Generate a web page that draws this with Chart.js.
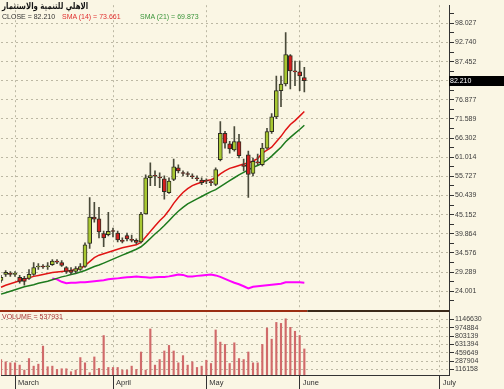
<!DOCTYPE html>
<html>
<head>
<meta charset="utf-8">
<script src="https://cdn.jsdelivr.net/npm/chart.js@4.4.1/dist/chart.umd.min.js"></script>
<style>
  html, body { margin: 0; padding: 0; background: #faf6e4; }
  #wrap { position: relative; width: 504px; height: 389px; overflow: hidden; }
  canvas { display: block; }
  .txt { position: absolute; white-space: nowrap; line-height: 1; font-family: 'Liberation Sans', Arial, sans-serif; font-size: 7px; }
  .titulo { font: bold 7px 'DejaVu Sans', sans-serif; color: #111; transform: scaleY(1.3); transform-origin: top left; }
</style>
</head>
<body>
<div id="wrap">
  <canvas id="grafico" width="504" height="389"></canvas>
  <div class="txt titulo" style="left:2px; top:1px;">الاهلي للتنمية والاستثمار</div>
  <div class="txt" style="left:2px; top:13px; color:#333;">CLOSE = 82.210</div>
  <div class="txt" style="left:62px; top:13px; color:#e03030;">SMA (14) = 73.661</div>
  <div class="txt" style="left:140px; top:13px; color:#3a953a;">SMA (21) = 69.873</div>
  <div class="txt" style="left:2px; top:313px; color:#a83434;">VOLUME = 537931</div>
</div>
<script>
// precios diarios (feb - jun)
const open = [27.00, 28.63, 28.77, 28.63, 27.82, 27.54, 27.54, 28.63, 30.68, 30.82,
  30.76, 31.36, 32.18, 31.91, 30.54, 29.86, 29.45, 30.00, 30.82, 37.17,
  44.45, 43.98, 39.89, 39.62, 40.63, 40.08, 37.90, 39.40, 38.18, 38.04,
  37.63, 45.34, 55.35, 55.89, 55.35, 55.08, 51.26, 54.89, 58.08, 56.58,
  56.30, 55.68, 55.13, 54.72, 54.53, 54.04, 53.52, 60.34, 67.62, 64.70,
  63.06, 65.35, 58.89, 61.70, 56.52, 59.57, 58.97, 63.53, 68.08, 72.17,
  79.42, 81.25, 89.15, 84.71, 84.60, 83.07]
const high = [28.36, 29.72, 29.45, 29.45, 28.36, 28.09, 30.00, 31.91, 31.63, 31.36,
  31.91, 32.72, 32.72, 32.45, 30.82, 30.54, 30.82, 31.63, 37.36, 49.90,
  48.53, 47.17, 40.63, 45.81, 41.45, 40.63, 38.72, 40.08, 39.54, 38.45,
  45.81, 56.17, 59.44, 57.26, 56.71, 55.89, 55.35, 60.53, 58.89, 57.26,
  56.98, 56.44, 55.89, 55.35, 55.08, 54.80, 58.08, 70.89, 68.16, 65.44,
  69.52, 67.34, 60.53, 62.71, 60.80, 61.89, 64.89, 68.98, 73.07, 83.43,
  83.43, 95.50, 89.42, 87.60, 87.60, 85.88]
const low = [26.45, 28.09, 28.09, 28.09, 26.18, 25.64, 27.27, 28.36, 30.00, 30.27,
  30.00, 31.09, 31.63, 30.82, 28.91, 28.63, 28.91, 29.72, 30.54, 35.80,
  43.08, 38.72, 36.27, 39.27, 38.99, 37.63, 37.36, 37.90, 37.63, 37.08,
  37.36, 45.26, 53.17, 53.17, 52.62, 49.43, 50.99, 54.53, 56.71, 55.89,
  55.62, 55.08, 54.53, 53.44, 53.71, 53.17, 53.17, 59.98, 63.53, 62.16,
  62.71, 60.80, 57.26, 49.90, 55.89, 58.89, 58.62, 63.25, 67.62, 71.71,
  74.98, 80.70, 79.88, 80.78, 79.42, 79.07]
const close = [27.82, 29.18, 28.63, 28.91, 26.73, 26.73, 28.63, 30.54, 30.82, 30.68,
  30.87, 32.31, 32.04, 31.09, 29.45, 29.18, 30.27, 30.82, 36.81, 44.45,
  43.90, 40.36, 38.72, 40.55, 40.49, 38.18, 37.77, 38.45, 38.04, 37.49,
  45.34, 55.35, 55.98, 55.76, 55.29, 51.53, 54.45, 58.35, 57.26, 56.52,
  56.25, 55.62, 55.08, 53.99, 54.45, 53.99, 57.61, 67.62, 64.89, 63.34,
  65.35, 61.43, 58.48, 56.25, 59.90, 59.44, 63.53, 68.08, 72.17, 79.42,
  81.25, 89.42, 84.87, 84.60, 83.51, 82.21]
const sma14 = [25.09, 25.64, 26.05, 26.45, 26.86, 27.27, 27.68, 28.09, 28.36, 28.63,
  28.91, 29.18, 29.32, 29.45, 29.59, 29.72, 30.00, 30.27, 31.09, 32.18,
  33.27, 33.95, 34.36, 34.77, 35.18, 35.59, 35.99, 36.27, 36.54, 36.81,
  37.49, 38.99, 40.49, 41.99, 43.49, 44.72, 46.35, 48.26, 49.89, 51.26,
  52.35, 53.17, 53.71, 54.12, 54.53, 54.80, 55.35, 56.44, 57.25, 57.94,
  58.34, 58.75, 59.16, 59.43, 59.98, 60.66, 62.16, 62.98, 63.80, 65.29,
  66.79, 68.57, 70.06, 71.15, 72.38, 73.66]
const sma21 = [23.18, 23.59, 24.00, 24.41, 24.82, 25.23, 25.50, 25.77, 26.18, 26.45,
  26.73, 27.14, 27.54, 27.95, 28.23, 28.63, 28.91, 29.32, 29.72, 30.27,
  30.82, 31.22, 31.77, 32.31, 32.86, 33.40, 33.95, 34.49, 35.04, 35.59,
  36.27, 37.36, 38.58, 39.81, 40.90, 42.13, 43.49, 44.85, 46.08, 47.17,
  48.12, 48.80, 49.49, 50.17, 50.85, 51.53, 52.07, 52.89, 53.71, 54.53,
  55.35, 56.16, 56.84, 57.53, 58.21, 58.75, 59.43, 60.25, 61.34, 62.57,
  63.80, 65.29, 66.52, 67.61, 68.70, 69.87]
const magenta = [null, null, null, null, null, null, null, null, null, null,
  null, 27.54, 27.27, 26.59, 26.18, 26.32, 26.32, 26.45, 26.45, 26.59,
  26.73, 26.86, 27.00, 27.27, 27.41, 27.54, 27.68, 27.82, 27.95, 28.09,
  27.95, 27.82, 27.68, 27.82, 27.95, 27.95, 28.09, 28.36, 28.63, 28.50,
  28.09, 28.09, 28.23, 28.36, 28.50, 28.63, 28.36, 27.95, 27.41, 26.86,
  26.32, 25.91, 25.36, 24.74, 25.23, 25.36, 25.50, 25.64, 25.77, 25.91,
  26.05, 26.45, 26.45, 26.45, 26.45, 26.32]
const volume = [319000, 272000, 251000, 251000, 204000, 102000, 340000, 183000, 224000, 597000,
  170000, 183000, 115000, 129000, 129000, 68000, 102000, 360000, 251000, 48000,
  373000, 136000, 815000, 156000, 156000, 156000, 102000, 102000, 183000, 115000,
  475000, 102000, 950000, 204000, 319000, 496000, 611000, 496000, 251000, 400000,
  204000, 272000, 156000, 183000, 305000, 238000, 930000, 679000, 631000, 238000,
  665000, 340000, 319000, 475000, 251000, 251000, 631000, 971000, 740000, 1086000,
  1066000, 1161000, 984000, 903000, 815000, 537931]

const meses = ['March', 'April', 'May', 'June', 'July']
const inicioMes = [3, 24, 44, 64, 94]
const totalDias = 97
const ticksPrecio = [24.001, 29.289, 34.576, 39.864, 45.152, 50.439, 55.727, 61.014,
  66.302, 71.589, 76.877, 82.164, 87.452, 92.740, 98.027]
const ticksVolumen = [116158, 287904, 459649, 631394, 803139, 974884, 1146630]

const fuente = "'Liberation Sans', Arial, sans-serif"
const verde = '#a8c832'
const rojo = '#d42020'
const grilla = '#bcb8a4'

const etiquetas = []
for (let i = 0; i < totalDias; i++) etiquetas.push('')
meses.forEach((m, k) => { etiquetas[inicioMes[k]] = m })
const esMes = (i) => inicioMes.includes(i)

const cuerpos = open.map((o, i) => [Math.min(o, close[i]), Math.max(o, close[i])])
const colores = open.map((o, i) => close[i] >= o ? verde : rojo)
const mechas = low.map((l, i) => [l, high[i]])

// ticks de precio con marcas menores intermedias
const paso = ticksPrecio[1] - ticksPrecio[0]
const ticksY = [{ value: ticksPrecio[0] - paso / 2, minor: true }]
ticksPrecio.forEach(v => {
    ticksY.push({ value: v, minor: false })
    ticksY.push({ value: v + paso / 2, minor: true })
})

const extras = {
    id: 'extras',
    beforeDraw(chart) {
        const c = chart.ctx
        c.save()
        c.fillStyle = '#faf6e4'
        c.fillRect(0, 0, chart.width, chart.height)
        c.restore()
    },
    afterDatasetsDraw(chart) {
        const c = chart.ctx
        const a = chart.chartArea
        const yv = chart.scales.v.top
        const xFin = chart.scales.x.getPixelForValue(close.length - 1) + 3
        c.save()
        c.lineWidth = 2
        c.strokeStyle = '#9a2e12'
        c.beginPath(); c.moveTo(0, yv); c.lineTo(xFin, yv); c.stroke()
        c.strokeStyle = '#3b2a1a'
        c.beginPath(); c.moveTo(xFin, yv); c.lineTo(a.right, yv); c.stroke()
        c.restore()
    },
    afterDraw(chart) {
        const c = chart.ctx
        const s = chart.scales.y
        const ultimo = close[close.length - 1]
        const y = s.getPixelForValue(ultimo)
        c.save()
        c.fillStyle = '#000'
        c.fillRect(s.left, Math.round(y) - 5, chart.width - s.left, 10)
        c.fillStyle = '#fff'
        c.font = '7px ' + fuente
        c.textBaseline = 'middle'
        c.fillText(ultimo.toFixed(3), s.left + 1, Math.round(y) + 0.5)
        c.restore()
    }
}

const ctx = document.getElementById('grafico').getContext('2d')

new Chart(ctx, {
    type: 'bar',
    data: {
        labels: etiquetas,
        datasets: [
            {
                label: 'Cuerpo',
                data: cuerpos,
                yAxisID: 'y',
                backgroundColor: colores,
                borderColor: '#2e2e22',
                borderWidth: 1,
                borderSkipped: false,
                barThickness: 4,
                minBarLength: 1,
                grouped: false,
                order: 0
            },
            {
                label: 'Mecha',
                data: mechas,
                yAxisID: 'y',
                backgroundColor: '#4a4a3a',
                borderWidth: 0,
                barThickness: 1,
                grouped: false,
                order: 1
            },
            {
                type: 'line',
                label: 'SMA (14)',
                data: sma14,
                yAxisID: 'y',
                borderColor: '#e01414',
                borderWidth: 1.5,
                pointRadius: 0,
                order: 2
            },
            {
                type: 'line',
                label: 'SMA (21)',
                data: sma21,
                yAxisID: 'y',
                borderColor: '#1d7a1d',
                borderWidth: 1.5,
                pointRadius: 0,
                order: 3
            },
            {
                type: 'line',
                label: 'Indicador',
                data: magenta,
                yAxisID: 'y',
                borderColor: '#ff00ff',
                borderWidth: 2,
                pointRadius: 0,
                order: 4
            },
            {
                label: 'Volumen',
                data: volume,
                yAxisID: 'v',
                backgroundColor: '#d06a6a',
                barThickness: 1.5,
                grouped: false,
                order: 5
            }
        ]
    },
    options: {
        responsive: false,
        animation: false,
        layout: { padding: { left: 1, top: 0, right: 0, bottom: 0 } },
        plugins: {
            legend: { display: false },
            tooltip: { enabled: false }
        },
        scales: {
            x: {
                type: 'category',
                offset: false,
                afterFit: (s) => { s.height = 14 },
                grid: {
                    offset: false,
                    color: (c) => esMes(c.index) ? grilla : 'transparent',
                    tickColor: (c) => esMes(c.index) ? '#333' : 'transparent',
                    tickLength: 14,
                    lineWidth: 1
                },
                border: { color: '#333', width: 1, dash: [2, 3] },
                ticks: {
                    autoSkip: false,
                    maxRotation: 0,
                    minRotation: 0,
                    align: 'start',
                    labelOffset: 3,
                    padding: -11,
                    color: '#333',
                    font: { family: fuente, size: 7.5 }
                }
            },
            y: {
                type: 'linear',
                position: 'right',
                stack: 'panel',
                stackWeight: 310,
                min: 18.55,
                max: 103.04,
                afterFit: (s) => { s.width = 55 },
                afterBuildTicks: (s) => { s.ticks = ticksY.map(t => ({ value: t.value, minor: t.minor })) },
                grid: {
                    color: (c) => c.tick && !c.tick.minor ? grilla : 'transparent',
                    tickColor: '#333',
                    tickLength: 5
                },
                border: { color: '#333', width: 1, dash: [2, 3] },
                ticks: {
                    autoSkip: false,
                    padding: 1,
                    color: '#3c3c3c',
                    font: { family: fuente, size: 7 },
                    callback: (v, i, t) => t[i].minor ? '' : v.toFixed(3)
                }
            },
            v: {
                type: 'linear',
                position: 'right',
                stack: 'panel',
                stackWeight: 65,
                min: 0,
                max: 1323700,
                afterFit: (s) => { s.width = 55 },
                afterBuildTicks: (s) => { s.ticks = ticksVolumen.map(v => ({ value: v })) },
                grid: {
                    color: grilla,
                    tickColor: '#333',
                    tickLength: 5
                },
                border: { color: '#333', width: 1, dash: [2, 3] },
                ticks: {
                    autoSkip: false,
                    padding: 1,
                    color: '#3c3c3c',
                    font: { family: fuente, size: 7 },
                    callback: (v) => String(v)
                }
            }
        }
    },
    plugins: [extras]
})
</script>
</body>
</html>
